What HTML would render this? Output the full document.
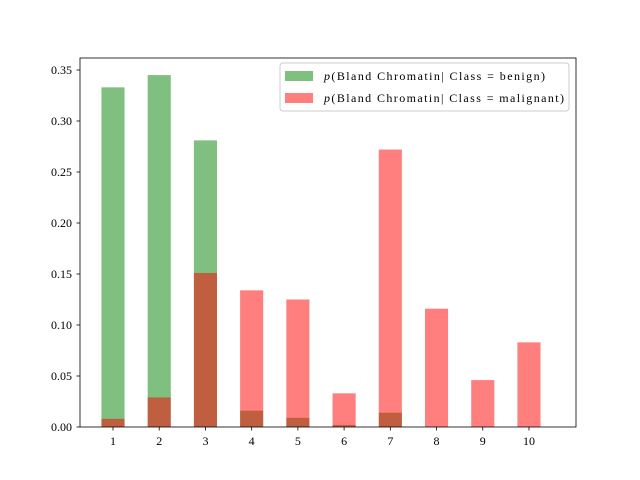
<!DOCTYPE html>
<html><head><meta charset="utf-8"><style>body{margin:0;background:#fff}svg{display:block;font-family:"Liberation Serif",serif}</style></head>
<body>
<svg width="640" height="480">
<rect x="0" y="0" width="640" height="480" fill="#fff"/>
<g id="bars"></g>
<rect x="80" y="58" width="496" height="369" fill="none" stroke="#000" stroke-width="0.8"/>
<g id="axes" font-size="12"></g>
<g>
<rect x="280" y="63" width="289" height="48" rx="3" fill="#fff" fill-opacity="0.8" stroke="#ccc"/>
<rect x="285" y="71" width="28" height="10" fill="green" fill-opacity="0.5"/>
<text x="324" y="80" font-size="12" textLength="221" lengthAdjust="spacing"><tspan font-style="italic">p</tspan>(Bland Chromatin| Class = benign)</text>
<rect x="285" y="93" width="28" height="10" fill="red" fill-opacity="0.5"/>
<text x="324" y="102" font-size="12" textLength="240" lengthAdjust="spacing"><tspan font-style="italic">p</tspan>(Bland Chromatin| Class = malignant)</text>
</g>
</svg>
<script>
const categories=[1,2,3,4,5,6,7,8,9,10];
const benign=[0.333,0.345,0.281,0.016,0.009,0.002,0.014,0,0,0];
const malignant=[0.008,0.029,0.151,0.134,0.125,0.033,0.272,0.116,0.046,0.083];
const yTicks=[0,0.05,0.10,0.15,0.20,0.25,0.30,0.35];
const NS="http://www.w3.org/2000/svg";
const xs=v=>113+(v-1)*46.22;
const ys=v=>427-v*1020;
const bw=23.1;
const bars=document.getElementById('bars'), axes=document.getElementById('axes');
function mk(t,a,p){const e=document.createElementNS(NS,t);for(const k in a)e.setAttribute(k,a[k]);p.appendChild(e);return e;}
categories.forEach((c,i)=>{
 const g=mk('rect',{x:xs(c)-bw/2,y:ys(benign[i]),width:bw,height:427-ys(benign[i]),fill:'green','fill-opacity':0.5},bars);
 
 
});
categories.forEach((c,i)=>{
 const r=mk('rect',{x:xs(c)-bw/2,y:ys(malignant[i]),width:bw,height:427-ys(malignant[i]),fill:'red','fill-opacity':0.5},bars);
 
 
});
categories.forEach(c=>{
 mk('line',{x1:xs(c),x2:xs(c),y1:427,y2:430.5,stroke:'#000','stroke-width':0.8},axes);
 const t=mk('text',{x:xs(c),y:445,'text-anchor':'middle'},axes);t.textContent=c;
 
 
});
yTicks.forEach(v=>{
 mk('line',{x1:76.5,x2:80,y1:ys(v),y2:ys(v),stroke:'#000','stroke-width':0.8},axes);
 const t=mk('text',{x:72,y:ys(v)+4,'text-anchor':'end'},axes);t.textContent=v.toFixed(2);
 
 
});
</script>
</body></html>
